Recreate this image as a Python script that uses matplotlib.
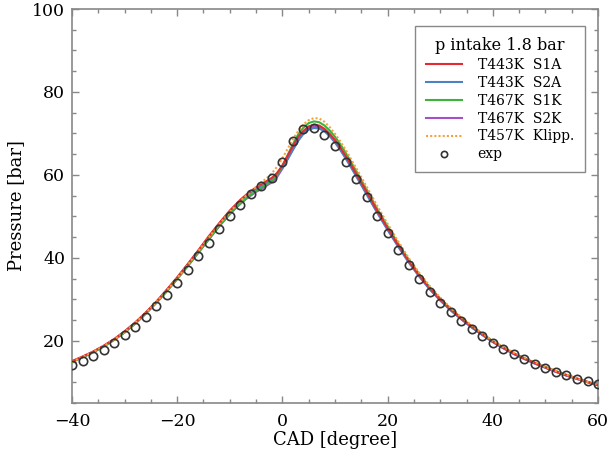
import matplotlib
matplotlib.use("Agg")
import matplotlib.pyplot as plt
from matplotlib.ticker import MultipleLocator

plt.rcParams['font.family'] = ['DejaVu Serif']

# experimental points (every 2 degrees)
cad_exp = list(range(-40, 61, 2))
p_exp = [14.1, 15.1, 16.3, 17.7, 19.4, 21.3, 23.4, 25.8, 28.3, 31.1,
         34.0, 37.0, 40.4, 43.6, 47.0, 50.0, 52.8, 55.4, 57.4, 59.2,
         63.1, 68.2, 71.1, 71.3, 69.7, 67.0, 63.1, 59.0, 54.6, 50.2,
         46.0, 42.0, 38.3, 34.8, 31.8, 29.2, 26.9, 24.8, 22.8, 21.1,
         19.5, 18.0, 16.7, 15.5, 14.4, 13.4, 12.5, 11.7, 10.9, 10.2, 9.5]

# simulation crank-angle grid
cad_sim = [-40, -38, -36, -34, -32, -30, -28, -26, -24, -22, -20, -18, -16, -14, -12, -10,
           -9, -8, -7, -6, -5, -4, -3, -2, -1, 0, 1, 2, 3, 4, 5, 6, 7, 8, 9, 10, 11, 12, 13, 14,
           16, 18, 20, 22, 24, 26, 28, 30, 32, 34, 36, 38, 40, 42, 44, 46, 48, 50, 52, 54, 56, 58, 60]

p_s1a_443 = [15.1, 16.2, 17.4, 18.8, 20.4, 22.3, 24.4, 26.8, 29.4, 32.3, 35.3, 38.5, 41.8, 45.2, 48.4, 51.4,
             52.7, 54.0, 55.1, 56.1, 57.0, 57.8, 58.5, 59.3, 60.5, 62.3, 64.6, 67.0, 69.2, 70.6, 71.7, 72.1, 71.9, 71.1, 69.9, 68.4, 66.6, 64.6, 62.5, 60.3,
             55.9, 51.4, 47.2, 43.1, 39.3, 35.8, 32.7, 30.0, 27.6, 25.4, 23.4, 21.6, 19.8, 18.3, 16.9, 15.7, 14.6, 13.6, 12.6, 11.7, 10.9, 10.1, 9.3]

p_s2a_443 = [15.0, 16.1, 17.3, 18.7, 20.3, 22.2, 24.3, 26.7, 29.3, 32.2, 35.2, 38.4, 41.7, 45.0, 48.2, 51.2,
             52.5, 53.7, 54.8, 55.8, 56.6, 57.3, 58.0, 58.8, 60.0, 61.8, 63.8, 66.0, 68.2, 69.9, 70.9, 71.3, 71.2, 70.5, 69.3, 67.8, 66.0, 64.0, 61.9, 59.7,
             55.3, 50.9, 46.7, 42.7, 38.9, 35.5, 32.4, 29.7, 27.3, 25.2, 23.2, 21.4, 19.7, 18.2, 16.8, 15.6, 14.5, 13.5, 12.5, 11.6, 10.8, 10.0, 9.3]

p_s1k_467 = [14.9, 16.0, 17.2, 18.6, 20.2, 22.0, 24.1, 26.5, 29.1, 31.9, 34.9, 38.0, 41.2, 44.5, 47.7, 50.6,
             51.9, 53.1, 54.2, 55.2, 56.1, 56.9, 57.7, 58.6, 60.0, 62.2, 64.8, 67.4, 69.8, 71.4, 72.5, 72.9, 72.7, 71.9, 70.7, 69.2, 67.4, 65.4, 63.2, 61.0,
             56.5, 51.9, 47.6, 43.5, 39.6, 36.1, 32.9, 30.2, 27.7, 25.5, 23.5, 21.7, 19.9, 18.4, 17.0, 15.8, 14.7, 13.7, 12.7, 11.8, 10.9, 10.1, 9.4]

p_s2k_467 = [14.9, 16.0, 17.2, 18.6, 20.2, 22.0, 24.1, 26.5, 29.1, 31.9, 34.9, 38.0, 41.2, 44.4, 47.6, 50.5,
             51.8, 53.0, 54.1, 55.0, 55.9, 56.6, 57.4, 58.2, 59.5, 61.5, 63.8, 66.2, 68.5, 70.2, 71.2, 71.6, 71.5, 70.8, 69.6, 68.1, 66.3, 64.3, 62.2, 60.0,
             55.6, 51.1, 46.9, 42.9, 39.1, 35.6, 32.5, 29.8, 27.4, 25.2, 23.2, 21.4, 19.7, 18.2, 16.8, 15.6, 14.5, 13.5, 12.5, 11.6, 10.8, 10.0, 9.3]

p_klipp_457 = [15.0, 16.1, 17.3, 18.7, 20.3, 22.1, 24.3, 26.7, 29.3, 32.1, 35.1, 38.3, 41.6, 44.9, 48.1, 51.1,
               52.4, 53.7, 54.9, 56.0, 57.1, 58.2, 59.2, 60.4, 62.0, 64.0, 66.3, 68.6, 70.6, 72.2, 73.2, 73.7, 73.6, 72.8, 71.5, 69.9, 68.1, 66.1, 63.9, 61.7,
               57.2, 52.6, 48.2, 44.0, 40.0, 36.4, 33.2, 30.4, 27.9, 25.7, 23.7, 21.8, 20.0, 18.5, 17.1, 15.9, 14.8, 13.7, 12.7, 11.8, 10.9, 10.1, 9.4]

fig = plt.figure(figsize=(6.09, 4.57), dpi=100)
ax = fig.add_axes([0.1182, 0.1182, 0.8638, 0.8621])

lw = 1.5
ax.plot(cad_sim, p_s2k_467, color='#a550c8', lw=lw, zorder=1, label='T467K  S2K')
ax.plot(cad_sim, p_s2a_443, color='#4a82c4', lw=lw, zorder=2, label='T443K  S2A')
ax.plot(cad_sim, p_s1k_467, color='#3cb43c', lw=lw, zorder=3, label='T467K  S1K')
ax.plot(cad_sim, p_s1a_443, color='#e42a30', lw=lw, zorder=4, label='T443K  S1A')
ax.plot(cad_sim, p_klipp_457, color='#f7a040', lw=lw, ls=(0, (1, 1)), zorder=5, label='T457K  Klipp.')
ax.plot(cad_exp, p_exp, ls='none', marker='o', ms=6, mfc='none', mec='#333333', mew=1.2,
        zorder=6, label='exp')

ax.set_xlim(-40, 60)
ax.set_ylim(5, 100)
ax.xaxis.set_major_locator(MultipleLocator(20))
ax.xaxis.set_minor_locator(MultipleLocator(5))
ax.yaxis.set_major_locator(MultipleLocator(20))
ax.yaxis.set_minor_locator(MultipleLocator(5))
ax.tick_params(which='both', direction='in', top=True, right=True, color='#888888',
               labelsize=12.5, pad=5)
ax.tick_params(axis='x', which='both', pad=7)
ax.tick_params(which='major', length=5, width=1)
ax.tick_params(which='minor', length=3, width=1)
for s in ax.spines.values():
    s.set_color('#888888')
    s.set_linewidth(1.2)

ax.set_xlabel('CAD [degree]', fontsize=13, labelpad=1)
ax.set_ylabel('Pressure [bar]', fontsize=13, labelpad=5)

handles, labels = ax.get_legend_handles_labels()
order = ['T443K  S1A', 'T443K  S2A', 'T467K  S1K', 'T467K  S2K', 'T457K  Klipp.', 'exp']
hl = {l: h for h, l in zip(handles, labels)}
leg = ax.legend([hl[o] for o in order], order, loc='upper right',
                bbox_to_anchor=(0.975, 0.957), borderaxespad=0,
                title='p intake 1.8 bar',
                title_fontsize=11.5, fontsize=10, fancybox=False, framealpha=1,
                edgecolor='#888888', handlelength=2.6, handletextpad=1.1,
                labelspacing=0.28, borderpad=0.8, markerscale=0.75)
leg.get_frame().set_linewidth(1.0)
leg.set_zorder(10)

fig.savefig('out.png', dpi=100)
